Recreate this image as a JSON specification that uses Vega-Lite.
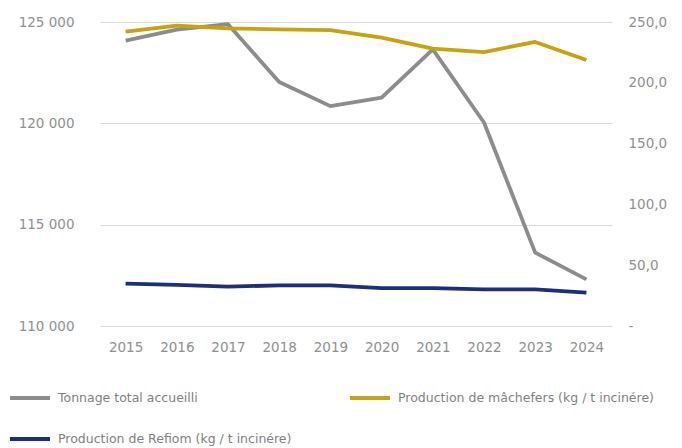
{
  "$schema": "https://vega.github.io/schema/vega-lite/v6.json",
  "width": 512,
  "height": 304,
  "autosize": {"type": "none"},
  "padding": {"left": 100, "top": 22, "right": 70, "bottom": 122},
  "background": "white",
  "config": {
    "view": {"stroke": null},
    "font": "DejaVu Sans",
    "axis": {"labelFont": "DejaVu Sans", "labelColor": "#8f8f8f", "labelFontSize": 13.5, "domain": false, "ticks": false, "title": null},
    "legend": {"labelFont": "DejaVu Sans", "labelColor": "#7f7f7f", "labelFontSize": 12.5}
  },
  "data": {"values": [
    {"year": "2015", "series": "Tonnage total accueilli", "value": 124080},
    {"year": "2016", "series": "Tonnage total accueilli", "value": 124620},
    {"year": "2017", "series": "Tonnage total accueilli", "value": 124890},
    {"year": "2018", "series": "Tonnage total accueilli", "value": 122040},
    {"year": "2019", "series": "Tonnage total accueilli", "value": 120850},
    {"year": "2020", "series": "Tonnage total accueilli", "value": 121270},
    {"year": "2021", "series": "Tonnage total accueilli", "value": 123650},
    {"year": "2022", "series": "Tonnage total accueilli", "value": 120040},
    {"year": "2023", "series": "Tonnage total accueilli", "value": 113620},
    {"year": "2024", "series": "Tonnage total accueilli", "value": 112300},
    {"year": "2015", "series": "Production de mâchefers (kg / t incinére)", "value": 242.1},
    {"year": "2016", "series": "Production de mâchefers (kg / t incinére)", "value": 247.0},
    {"year": "2017", "series": "Production de mâchefers (kg / t incinére)", "value": 244.8},
    {"year": "2018", "series": "Production de mâchefers (kg / t incinére)", "value": 244.0},
    {"year": "2019", "series": "Production de mâchefers (kg / t incinére)", "value": 243.4},
    {"year": "2020", "series": "Production de mâchefers (kg / t incinére)", "value": 237.2},
    {"year": "2021", "series": "Production de mâchefers (kg / t incinére)", "value": 228.1},
    {"year": "2022", "series": "Production de mâchefers (kg / t incinére)", "value": 225.3},
    {"year": "2023", "series": "Production de mâchefers (kg / t incinére)", "value": 233.6},
    {"year": "2024", "series": "Production de mâchefers (kg / t incinére)", "value": 218.8},
    {"year": "2015", "series": "Production de Refiom (kg / t incinére)", "value": 34.9},
    {"year": "2016", "series": "Production de Refiom (kg / t incinére)", "value": 33.9},
    {"year": "2017", "series": "Production de Refiom (kg / t incinére)", "value": 32.4},
    {"year": "2018", "series": "Production de Refiom (kg / t incinére)", "value": 33.4},
    {"year": "2019", "series": "Production de Refiom (kg / t incinére)", "value": 33.4},
    {"year": "2020", "series": "Production de Refiom (kg / t incinére)", "value": 31.2},
    {"year": "2021", "series": "Production de Refiom (kg / t incinére)", "value": 31.2},
    {"year": "2022", "series": "Production de Refiom (kg / t incinére)", "value": 30.2},
    {"year": "2023", "series": "Production de Refiom (kg / t incinére)", "value": 30.2},
    {"year": "2024", "series": "Production de Refiom (kg / t incinére)", "value": 27.5}
  ]},
  "encoding": {
    "x": {"field": "year", "type": "ordinal", "axis": {"labelAngle": 0, "labelPadding": 14, "grid": false}},
    "color": {
      "field": "series", "type": "nominal",
      "scale": {
        "domain": ["Tonnage total accueilli", "Production de Refiom (kg / t incinére)", "Production de mâchefers (kg / t incinére)"],
        "range": ["#8c8c8c", "#1b2f7c", "#c9a210"]
      },
      "legend": {
        "title": null, "orient": "none", "legendX": -92, "legendY": 354,
        "columns": 2, "columnPadding": 50, "rowPadding": 11,
        "symbolType": "stroke", "symbolSize": 1600, "symbolStrokeWidth": 4,
        "labelOffset": 6, "labelLimit": 400, "padding": 0
      }
    }
  },
  "layer": [
    {
      "transform": [{"filter": "datum.series === 'Tonnage total accueilli'"}],
      "mark": {"type": "line", "strokeWidth": 3.8, "strokeJoin": "round"},
      "encoding": {
        "y": {"field": "value", "type": "quantitative",
          "scale": {"domain": [110000, 125000], "nice": false, "zero": false},
          "axis": {"values": [110000, 115000, 120000, 125000], "grid": true, "gridColor": "#d9d9d9", "gridWidth": 1.2, "labelPadding": 26,
            "labelExpr": "replace(format(datum.value, ','), ',', ' ')"}}
      }
    },
    {
      "transform": [{"filter": "datum.series !== 'Tonnage total accueilli'"}],
      "mark": {"type": "line", "strokeWidth": 3.8, "strokeJoin": "round"},
      "encoding": {
        "y": {"field": "value", "type": "quantitative",
          "scale": {"domain": [0, 250], "nice": false},
          "axis": {"orient": "right", "values": [0, 50, 100, 150, 200, 250], "grid": false, "labelPadding": 16,
            "labelExpr": "datum.value == 0 ? '-' : replace(format(datum.value, '.1f'), '.', ',')"}}
      }
    }
  ],
  "resolve": {"scale": {"y": "independent"}}
}
